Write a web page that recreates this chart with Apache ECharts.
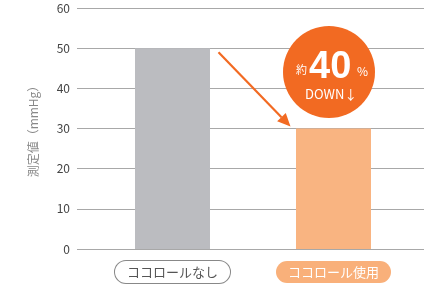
<!DOCTYPE html>
<html>
<head>
<meta charset="utf-8">
<script src="https://cdn.jsdelivr.net/npm/echarts@6/dist/echarts.min.js"></script>
<style>
html,body{margin:0;padding:0;background:#fff;}
#chartContainer{width:424px;height:287px;}
</style>
</head>
<body>
<div id="chartContainer"></div>
<script>
var categories = ['ココロールなし', 'ココロール使用'];
var values = [50, 30];
var barColors = ['#bbbcc0', '#f9b481'];
var yTicks = [0, 10, 20, 30, 40, 50, 60];
var badgeMain = '40';
var font = '"Noto Sans CJK JP", "Noto Sans", sans-serif';

var myChart = echarts.init(document.getElementById('chartContainer'));
var option = {
    animation: false,
    grid: [
        // 棒グラフ用
        { left: 92, right: 10, top: 8, bottom: 38 },
        // 目盛り線用
        { left: 77, right: 0, top: 8, bottom: 38 }
    ],
    xAxis: [{
        type: 'category',
        gridIndex: 0,
        data: categories,
        axisLine: { show: false },
        axisTick: { show: false },
        axisLabel: {
            margin: 12,
            formatter: function (v, i) {
                return i === 0 ? '{a|' + v + '}' : '{b|' + v + '}';
            },
            rich: {
                a: {
                    fontFamily: font, fontSize: 13, color: '#555',
                    backgroundColor: '#fff', borderColor: '#888', borderWidth: 1,
                    borderRadius: 12, padding: [5, 12, 4, 12]
                },
                b: {
                    fontFamily: font, fontSize: 13, color: '#fff',
                    backgroundColor: '#f9b07a', borderRadius: 12, padding: [5, 12, 4, 12]
                }
            }
        }
    }, {
        type: 'value',
        gridIndex: 1,
        show: false
    }],
    yAxis: [{
        type: 'value',
        gridIndex: 0,
        min: 0, max: 60, interval: 10,
        show: false
    }, {
        type: 'value',
        gridIndex: 1,
        min: yTicks[0], max: yTicks[yTicks.length - 1], interval: 10,
        name: '測定値（mmHg）',
        nameLocation: 'middle',
        nameGap: 38,
        nameTextStyle: { fontFamily: font, fontSize: 12, color: '#888' },
        axisLine: { show: false },
        axisTick: { show: false },
        axisLabel: { fontFamily: font, fontSize: 12, color: '#444', margin: 7 },
        splitLine: { lineStyle: { color: '#a8a8a8', width: 1 } }
    }],
    series: [{
        type: 'bar',
        xAxisIndex: 0,
        yAxisIndex: 0,
        barWidth: 75,
        z: 3,
        data: values.map(function (v, i) {
            return { value: v, itemStyle: { color: barColors[i] } };
        })
    }]
};
myChart.setOption(option);

// 矢印と吹き出し
var p0 = myChart.convertToPixel({ xAxisIndex: 0, yAxisIndex: 0 }, [0, values[0]]);
var p1 = myChart.convertToPixel({ xAxisIndex: 0, yAxisIndex: 0 }, [1, values[1]]);
var sx = p0[0] + 46, sy = p0[1] + 4;
var ex = p1[0] - 43, ey = p1[1] - 2;
var ang = Math.atan2(ey - sy, ex - sx);
var hl = 13, hw = 6;
var bx = ex - hl * Math.cos(ang), by = ey - hl * Math.sin(ang);
myChart.setOption({
    graphic: [
        { type: 'line', z: 10, shape: { x1: sx, y1: sy, x2: bx, y2: by },
          style: { stroke: '#f26a22', lineWidth: 2.2 } },
        { type: 'polygon', z: 10, shape: { points: [
            [ex, ey],
            [bx + hw * Math.sin(ang), by - hw * Math.cos(ang)],
            [bx - hw * Math.sin(ang), by + hw * Math.cos(ang)]
          ] }, style: { fill: '#f26a22' } },
        { type: 'circle', z: 10, shape: { cx: 329, cy: 72, r: 46 }, style: { fill: '#f26a22' } },
        { type: 'text', z: 11, left: 296, top: 64,
          style: { text: '約', fill: '#fff', font: '11px ' + font } },
        { type: 'text', z: 11, left: 309, top: 49,
          style: { text: badgeMain, fill: '#fff', font: 'bold 38px "Liberation Sans", Arial, sans-serif' } },
        { type: 'text', z: 11, left: 357, top: 65,
          style: { text: '%', fill: '#fff', font: '12px ' + font } },
        { type: 'text', z: 11, left: 305, top: 88,
          style: { text: 'DOWN↓', fill: '#fff', font: '13px ' + font } }
    ]
});
</script>
</body>
</html>
